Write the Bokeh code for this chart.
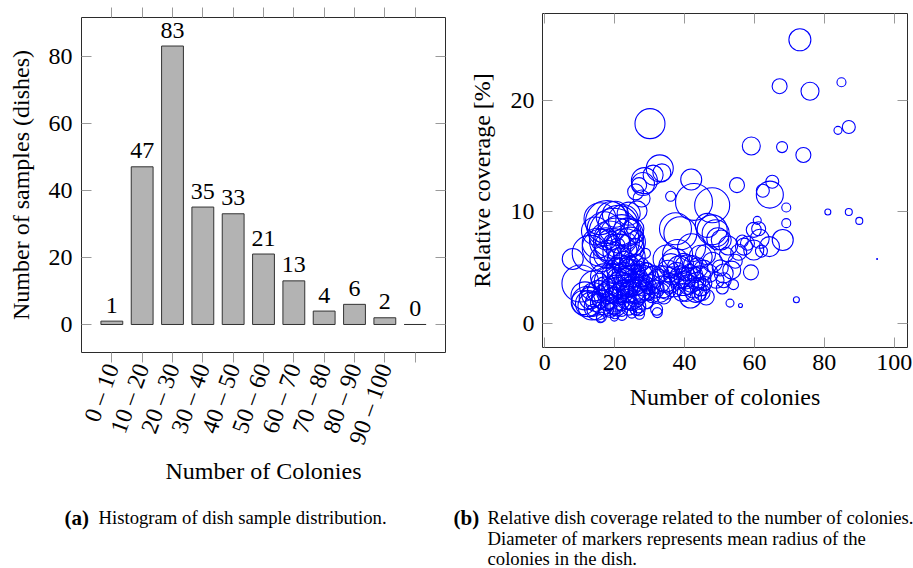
import math
from bokeh.plotting import figure
from bokeh.models import Range1d, FixedTicker, LinearAxis
from bokeh.layouts import row, column
from bokeh.embed import file_html
from bokeh.resources import INLINE
from bokeh.core.properties import value

# ---------------- data: histogram ----------------
bin_labels = ["0 – 10", "10 – 20", "20 – 30", "30 – 40", "40 – 50", "50 – 60",
              "60 – 70", "70 – 80", "80 – 90", "90 – 100", ""]
bin_counts = [1, 47, 83, 35, 33, 21, 13, 4, 6, 2, 0]
count_ticks = [0, 20, 40, 60, 80]

# ---------------- data: scatter ----------------
colonies = [
    8.0,
    17.8, 19.8, 16.0, 18.5, 15.0, 17.0, 19.0, 14.5, 19.5, 18.0, 16.5, 13.0, 17.5, 19.2, 15.8,
    10.2, 12.0, 12.5, 13.0, 13.5, 14.0, 14.5, 15.0, 15.3, 15.9, 16.0, 16.2, 16.5, 17.0, 17.2, 17.5,
    18.0, 18.2, 18.5, 18.8, 19.0, 19.3, 19.6, 19.9, 11.0, 11.5, 14.2, 16.8, 13.8, 17.8, 19.8, 15.6,
    20.5, 21.0, 21.5, 22.0, 22.5, 23.0, 23.5, 24.0, 24.5, 25.0, 20.2, 21.2, 22.8, 25.5, 26.2, 20.8,
    23.8, 22.2, 26.0, 24.3,
    26.4, 27.7, 28.1, 27.0, 26.0, 28.5, 28.8, 29.2,
    20.0, 20.3, 20.6, 20.9, 21.2, 21.5, 21.8, 22.1, 22.4, 22.7, 23.0, 23.3, 23.6, 23.9, 24.2, 24.5,
    24.8, 25.1, 25.4, 25.7, 26.0, 26.3, 26.6, 26.9, 27.1, 27.2, 27.5, 27.8, 28.1, 28.4, 28.7, 29.0,
    29.3, 29.6, 29.8, 27.0, 20.5, 21.7, 23.5, 25.8, 22.0, 24.0, 26.8, 28.0, 29.5, 20.1, 22.6, 24.6,
    21.0, 25.3, 27.4, 28.9, 23.2, 26.1, 24.9,
    30.1, 31.0, 32.9, 36.0, 37.4, 38.8, 33.5,
    30.3, 30.8, 31.2, 31.6, 32.0, 32.2, 32.5, 32.9, 33.3, 33.7, 34.1, 34.5, 34.9, 35.3, 35.7, 36.1,
    36.5, 36.9, 37.3, 37.7, 38.1, 38.5, 38.9, 39.3, 39.7, 35.0, 38.0, 39.5,
    42.7, 47.9, 41.9, 47.9, 48.9, 46.5, 44.6, 42.0, 46.0, 49.5,
    40.2, 40.5, 40.8, 41.1, 41.4, 41.7, 42.0, 42.3, 42.6, 42.9, 43.2, 43.5, 43.8, 44.1, 44.4, 44.7,
    45.0, 45.4, 45.8, 46.2, 47.0, 48.0, 49.0,
    50.5, 52.5, 51.2, 51.2, 53.0, 56.0, 55.0, 59.1, 59.0, 59.8, 59.8, 57.0, 50.2, 52.0, 53.5, 54.5,
    55.5, 56.5, 58.0, 50.8, 54.0,
    67.2, 67.9, 69.1, 69.1, 68.1, 64.4, 65.1, 62.4, 64.3, 61.5, 60.8, 61.2, 62.0,
    73.0, 75.9, 74.0, 72.0,
    84.9, 87.0, 83.9, 81.0, 87.0,
    90.0, 95.1,
]
coverage = [
    5.8,
    9.1, 8.1, 6.8, 7.4, 7.2, 8.5, 9.6, 8.3, 6.9, 6.2, 5.8, 6.3, 7.6, 7.3, 9.4,
    3.6, 2.0, 1.8, 2.3, 1.6, 2.6, 2.0, 1.5, 2.9, 0.45, 2.2, 0.6, 1.9, 3.3, 2.4, 1.4,
    2.8, 3.8, 2.1, 1.2, 3.0, 4.5, 2.6, 0.6, 1.9, 2.5, 3.4, 4.2, 1.2, 1.8, 1.6, 3.8,
    7.4, 8.8, 6.5, 7.8, 9.3, 6.8, 8.2, 9.85, 7.3, 6.0, 9.8, 5.8, 5.4, 8.5, 7.8, 7.0,
    7.4, 6.1, 6.9, 5.2,
    10.1, 11.2, 12.5, 12.4, 11.8, 12.8, 6.3, 4.9,
    2.2, 3.1, 1.5, 4.0, 2.7, 3.5, 1.9, 0.75, 2.9, 4.4, 3.2, 2.2, 3.8, 2.6, 4.8, 3.3,
    1.8, 2.9, 4.1, 3.5, 2.4, 4.6, 3.0, 1.6, 0.85, 3.8, 2.7, 4.3, 3.2, 2.2, 3.7, 2.9,
    4.0, 3.4, 2.6, 1.25, 5.0, 4.9, 5.2, 5.4, 1.2, 1.4, 5.0, 5.3, 1.8, 0.9, 3.6, 2.5,
    3.9, 3.9, 3.1, 4.6, 4.4, 1.3, 0.95,
    17.9, 13.3, 13.9, 11.4, 8.5, 8.1, 13.5,
    3.5, 2.6, 4.2, 3.1, 1.3, 1.0, 3.8, 2.8, 4.5, 3.3, 2.4, 4.0, 3.0, 4.7, 3.6, 5.2,
    4.3, 3.4, 5.6, 4.6, 3.8, 5.0, 4.2, 2.8, 5.4, 5.8, 6.2, 3.6,
    10.9, 10.6, 12.9, 8.4, 8.1, 8.8, 6.0, 6.8, 6.2, 7.6,
    4.1, 2.8, 5.0, 3.5, 4.6, 2.4, 3.9, 5.3, 3.2, 4.4, 2.9, 3.8, 5.0, 2.6, 4.2, 3.3,
    2.8, 4.8, 3.6, 2.4, 4.5, 5.5, 3.9,
    7.5, 7.0, 4.5, 3.9, 1.85, 1.64, 12.4, 15.9, 4.6, 8.4, 6.6, 6.9, 5.0, 6.2, 4.8, 5.6,
    6.4, 7.4, 7.2, 3.2, 3.5,
    21.25, 15.8, 10.4, 9.0, 7.5, 11.55, 12.7, 11.9, 6.9, 7.6, 9.25, 8.5, 6.5,
    25.4, 20.8, 15.1, 2.15,
    21.6, 17.6, 17.3, 10.0, 10.0,
    9.2, 5.8,
]
marker_diameter = [
    21,
    43, 50, 37, 40, 30, 34, 30, 28, 36, 28, 25, 36, 22, 16, 32,
    37, 30, 26, 22, 28, 24, 20, 26, 22, 8, 18, 10, 24, 20, 26, 16,
    22, 28, 18, 14, 24, 20, 16, 8, 24, 28, 30, 26, 12, 14, 18, 16,
    46, 40, 34, 44, 30, 38, 28, 23, 30, 26, 26, 22, 24, 20, 13, 15,
    16, 18, 16, 20,
    20, 17, 23, 15, 16, 26, 10, 12,
    24, 28, 18, 22, 20, 26, 16, 10, 22, 24, 18, 20, 26, 16, 22, 20,
    14, 24, 18, 22, 20, 16, 26, 14, 10, 20, 18, 22, 16, 20, 14, 18,
    24, 16, 12, 12, 20, 28, 16, 18, 12, 14, 14, 12, 10, 10, 30, 28,
    32, 30, 24, 20, 18, 12, 10,
    30, 20, 27, 10, 32, 33, 18,
    20, 16, 22, 18, 12, 10, 24, 20, 16, 22, 14, 26, 18, 22, 20, 24,
    18, 22, 26, 20, 16, 24, 22, 18, 20, 28, 30, 24,
    37, 35, 21, 30, 27, 24, 23, 28, 20, 22,
    22, 18, 26, 20, 16, 22, 24, 18, 20, 16, 22, 18, 20, 14, 22, 18,
    16, 20, 14, 16, 18, 20, 16,
    20, 19, 19, 15, 8, 4, 15, 18, 15, 15, 20, 17, 16, 14, 18, 14,
    16, 12, 14, 12, 10,
    15, 11, 9, 9, 21, 27, 13, 13, 20, 19, 8, 14, 12,
    22, 18, 15, 6,
    9, 13, 8, 6, 7,
    7, 1,
]
colony_ticks = [0, 20, 40, 60, 80, 100]
coverage_ticks = [0, 10, 20]

# ---------------- captions ----------------
caption_a_tag = "(a)"
caption_a_text = ["Histogram of dish sample distribution."]
caption_b_tag = "(b)"
caption_b_text = ["Relative dish coverage related to the number of colonies.",
                  "Diameter of markers represents mean radius of the",
                  "colonies in the dish."]

FONT = "Liberation Serif"
TICK_GRAY = "#9a9a9a"
FRAME = "#2b2b2b"
ROW_H = 500
CAP_H = 68
TOTAL_W = 913


def style_axis(ax, tick_in, tick_out, standoff=8, label_standoff=8):
    ax.axis_line_color = None
    ax.major_tick_line_color = TICK_GRAY
    ax.major_tick_line_width = 1
    ax.major_tick_in = tick_in
    ax.major_tick_out = tick_out
    ax.minor_tick_line_color = None
    ax.major_label_text_font = FONT
    ax.major_label_text_font_size = "24px"
    ax.major_label_text_color = "black"
    ax.major_label_standoff = standoff
    ax.axis_label_text_font = FONT
    ax.axis_label_text_font_size = "24px"
    ax.axis_label_text_font_style = "normal"
    ax.axis_label_text_color = "black"
    ax.axis_label_standoff = label_standoff


def mirror_axis(ticks, tick_in, tick_out):
    ax = LinearAxis(ticker=FixedTicker(ticks=ticks))
    ax.axis_line_color = None
    ax.major_tick_line_color = TICK_GRAY
    ax.major_tick_line_width = 1
    ax.major_tick_in = tick_in
    ax.major_tick_out = tick_out
    ax.minor_tick_line_color = None
    ax.major_label_overrides = {t: "" for t in ticks}
    ax.major_label_text_font_size = "1px"
    ax.major_label_standoff = 0
    ax.axis_label_standoff = 0
    return ax


# ---------------- left: histogram ----------------
x_pos = list(range(len(bin_counts)))
p1 = figure(width=453, height=ROW_H, output_backend="svg", toolbar_location=None,
            x_range=Range1d(-1, len(bin_counts)), y_range=Range1d(-8.35, 91.5),
            min_border_left=81, min_border_right=8, min_border_top=17,
            min_border_bottom=ROW_H - 352, frame_align=False)
p1.xgrid.visible = False
p1.ygrid.visible = False
p1.outline_line_color = FRAME
p1.outline_line_width = 1

xa = p1.xaxis[0]
xa.ticker = FixedTicker(ticks=x_pos)
xa.major_label_overrides = {i: lab for i, lab in zip(x_pos, bin_labels)}
xa.major_label_orientation = math.radians(70)
xa.axis_label = "Number of Colonies"
style_axis(xa, 0, 10, standoff=2, label_standoff=3)

ya = p1.yaxis[0]
ya.ticker = FixedTicker(ticks=count_ticks)
ya.axis_label = "Number of samples (dishes)"
style_axis(ya, 10, 0, standoff=9, label_standoff=12)

p1.add_layout(mirror_axis(x_pos, 0, 10), "above")
p1.add_layout(mirror_axis(count_ticks, 10, 0), "right")

p1.vbar(x=x_pos, top=bin_counts, bottom=0, width=0.72,
        fill_color="#b3b3b3", line_color="#333333", line_width=1)
p1.text(x=x_pos, y=bin_counts, text=[str(c) for c in bin_counts],
        text_align="center", text_baseline="alphabetic", y_offset=-16,
        text_font=value(FONT), text_font_size="24px", text_color="black")

# ---------------- right: scatter ----------------
p2 = figure(width=TOTAL_W - 453, height=ROW_H, output_backend="svg", toolbar_location=None,
            x_range=Range1d(-0.66, 103.8), y_range=Range1d(-2.12, 27.75),
            min_border_left=89, min_border_right=6, min_border_top=13,
            min_border_bottom=ROW_H - 347, frame_align=False)
p2.xgrid.visible = False
p2.ygrid.visible = False
p2.outline_line_color = FRAME
p2.outline_line_width = 1

xb = p2.xaxis[0]
xb.ticker = FixedTicker(ticks=colony_ticks)
xb.axis_label = "Number of colonies"
style_axis(xb, 10, 0, standoff=7, label_standoff=11)

yb = p2.yaxis[0]
yb.ticker = FixedTicker(ticks=coverage_ticks)
yb.axis_label = "Relative coverage [%]"
style_axis(yb, 10, 0, standoff=8, label_standoff=13)

p2.add_layout(mirror_axis(colony_ticks, 10, 0), "above")
p2.add_layout(mirror_axis(coverage_ticks, 10, 0), "right")

p2.scatter(x=colonies, y=coverage, size=marker_diameter, marker="circle",
           fill_color=None, line_color="#0000ff", line_width=1.1)

# ---------------- caption strip (pixel coordinates) ----------------
p3 = figure(width=TOTAL_W, height=CAP_H, output_backend="svg", toolbar_location=None,
            x_range=Range1d(0, TOTAL_W), y_range=Range1d(ROW_H + CAP_H, ROW_H),
            x_axis_location=None, y_axis_location=None, min_border=0, frame_align=False)
p3.grid.visible = False
p3.outline_line_color = None

line_y = [517, 537.5, 558]
p3.text(x=[64, 453], y=[line_y[0], line_y[0]], text=[caption_a_tag, caption_b_tag],
        text_font=value(FONT), text_font_style="bold", text_font_size="21px",
        text_color="black", text_baseline="alphabetic", text_align="left")
body_x = [98] + [487] * len(caption_b_text)
body_y = [line_y[0]] + line_y[:len(caption_b_text)]
p3.text(x=body_x, y=body_y, text=caption_a_text + caption_b_text,
        text_font=value(FONT), text_font_size="18.7px",
        text_color="black", text_baseline="alphabetic", text_align="left")

layout = column(row(p1, p2), p3)
open("out.html", "w").write(file_html(layout, INLINE))
